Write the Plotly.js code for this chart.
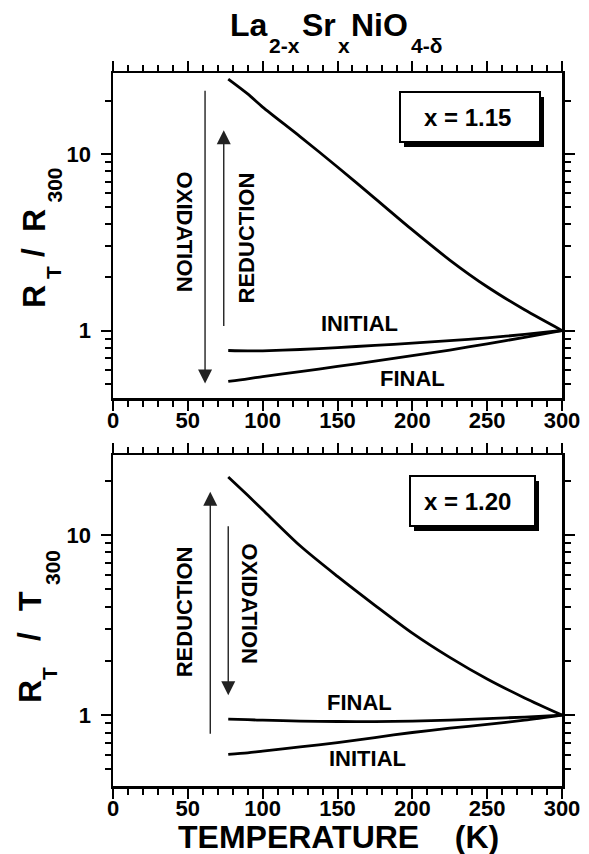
<!DOCTYPE html>
<html><head><meta charset="utf-8">
<script src="https://cdn.plot.ly/plotly-3.0.1.min.js"></script>
<style>html,body{margin:0;padding:0;background:#fff}</style>
</head><body>
<div id="chart" style="width:589px;height:854px"></div>
<script>
// ---- data ----
const temps = [77, 90, 100, 125, 150, 175, 200, 225, 250, 275, 300];
// x = 1.15 panel (R_T / R_300)
const upper115   = [26.7, 22.0, 18.5, 12.6, 8.47, 5.62, 3.72, 2.51, 1.77, 1.31, 1.0];
const initial115 = [0.77, 0.766, 0.767, 0.78, 0.80, 0.823, 0.848, 0.875, 0.908, 0.95, 1.0];
const final115   = [0.515, 0.532, 0.548, 0.585, 0.625, 0.67, 0.72, 0.775, 0.84, 0.915, 1.0];
// x = 1.20 panel (R_T / T_300)
const upper120   = [21, 16.6, 13.8, 8.71, 5.89, 4.07, 2.85, 2.09, 1.585, 1.245, 1.0];
const final120   = [0.95, 0.942, 0.936, 0.926, 0.921, 0.92, 0.925, 0.938, 0.955, 0.975, 1.0];
const initial120 = [0.605, 0.617, 0.63, 0.665, 0.703, 0.75, 0.80, 0.845, 0.887, 0.937, 1.0];
const xTickVals = [0, 50, 100, 150, 200, 250, 300];
const yTickVals = [1, 10];
const yTickText = ['1', '10'];
const yMinorVals = [0.5, 0.6, 0.7, 0.8, 0.9, 2, 3, 4, 5, 6, 7, 8, 9, 20];

// ---- layout helpers ----
const W = 589, H = 854;
const px = v => v / W, py = v => 1 - v / H;
const FONT = 'Liberation Sans, Arial, Helvetica, sans-serif';
const L = Math.log10;

const lineStyle = {color: '#000', width: 2.8, shape: 'spline', smoothing: 0.8};
function tr(y, xa, ya) { return {x: temps, y: y, xaxis: xa, yaxis: ya, mode: 'lines', line: lineStyle, hoverinfo: 'skip'}; }
const data = [
  tr(upper115, 'x', 'y'), tr(initial115, 'x', 'y'), tr(final115, 'x', 'y'),
  tr(upper120, 'x2', 'y2'), tr(final120, 'x2', 'y2'), tr(initial120, 'x2', 'y2')
];

const xBase = {
  range: [0, 300], tickmode: 'array', tickvals: xTickVals,
  ticks: 'outside', ticklen: 10, tickwidth: 2, tickcolor: '#000', ticklabelstandoff: -9,
  showline: true, linecolor: '#000', linewidth: 2.5, mirror: 'allticks',
  showgrid: false, zeroline: false, fixedrange: true, automargin: false,
  tickfont: {family: FONT, size: 22, color: '#000', weight: 700},
  minor: {dtick: 10, tick0: 0, ticks: 'outside', ticklen: 6, tickwidth: 2, tickcolor: '#000', showgrid: false}
};
const yBase = {
  type: 'log', tickmode: 'array', tickvals: yTickVals, ticktext: yTickText,
  ticks: 'outside', ticklen: 10, tickwidth: 2, tickcolor: '#000', ticklabelstandoff: 5,
  showline: true, linecolor: '#000', linewidth: 2.5, mirror: 'allticks',
  showgrid: false, zeroline: false, fixedrange: true, automargin: false,
  tickfont: {family: FONT, size: 22, color: '#000', weight: 700},
  minor: {tickmode: 'array', tickvals: yMinorVals, ticks: 'outside', ticklen: 6, tickwidth: 2, tickcolor: '#000', showgrid: false}
};

const xDom = [px(113), px(562)];
const layout = {
  width: W, height: H, margin: {l: 0, r: 0, t: 0, b: 0},
  paper_bgcolor: '#fff', plot_bgcolor: '#fff', showlegend: false,
  font: {family: FONT, color: '#000'},
  xaxis: Object.assign({}, xBase, {domain: xDom, anchor: 'y'}),
  yaxis: Object.assign({}, yBase, {domain: [py(398), py(73)], range: [-0.383, 1.461], anchor: 'x'}),
  xaxis2: Object.assign({}, xBase, {domain: xDom, anchor: 'y2'}),
  yaxis2: Object.assign({}, yBase, {domain: [py(786), py(455)], range: [-0.394, 1.444], anchor: 'x2'}),
  shapes: [], annotations: []
};

// boxes with drop shadow
function box(x0, x1, y0, y1) {
  layout.shapes.push({type: 'rect', xref: 'paper', yref: 'paper', x0: px(x0 + 4), x1: px(x1 + 4), y0: py(y1 + 5), y1: py(y0 + 5),
    fillcolor: '#000', line: {width: 0}, layer: 'above'});
  layout.shapes.push({type: 'rect', xref: 'paper', yref: 'paper', x0: px(x0), x1: px(x1), y0: py(y1), y1: py(y0),
    fillcolor: '#fff', line: {color: '#000', width: 2}, layer: 'above'});
}
box(400, 540, 92, 142);
box(410, 535, 476, 526);

function ptext(text, x, y, size, opts) {
  layout.annotations.push(Object.assign({text: text, xref: 'paper', yref: 'paper', x: px(x), y: py(y),
    xanchor: 'center', yanchor: 'middle', showarrow: false,
    font: {family: FONT, size: size, color: '#000', weight: 700}}, opts || {}));
}
function dtext(text, xa, ya, x, yv, size, angle) {
  layout.annotations.push({text: text, xref: xa, yref: ya, x: x, y: L(yv), textangle: angle || 0,
    xanchor: 'center', yanchor: 'middle', showarrow: false,
    font: {family: FONT, size: size, color: '#000', weight: 700}});
}
function arrow(xa, ya, x, yFrom, yTo) {
  layout.annotations.push({text: '', xref: xa, yref: ya, axref: xa, ayref: ya,
    x: x, y: L(yTo), ax: x, ay: L(yFrom), showarrow: true,
    arrowhead: 2, arrowsize: 2, arrowwidth: 1.4, arrowcolor: '#222', standoff: 0, startstandoff: 0});
}

ptext('x = 1.15', 467, 117, 24);
ptext('x = 1.20', 468, 501, 24);

// title pieces
const left = {xanchor: 'left'};
ptext('La', 228, 25, 32, left);
ptext('2-x', 267, 46, 21, left);
ptext('Sr', 300, 25, 32, left);
ptext('x', 336, 46, 21, left);
ptext('NiO', 349, 25, 32, left);
ptext('4-\u03b4', 409, 46, 21, left);

// y titles (rotated pieces)
const rot = {textangle: -90};
ptext('R', 34, 297, 32, rot);
ptext('T', 53, 273, 21, rot);
ptext('/', 33, 253, 32, rot);
ptext('R', 34, 221, 32, rot);
ptext('300', 53.5, 185, 21, rot);

ptext('R', 30, 692, 32, rot);
ptext('T', 49, 674, 21, rot);
ptext('/', 29, 637, 32, rot);
ptext('T', 30, 601, 32, rot);
ptext('300', 52, 568, 21, rot);

// x title
ptext('TEMPERATURE\u00a0\u00a0\u00a0\u00a0(K)', 338, 837, 32);

// panel texts
dtext('OXIDATION', 'x', 'y', 48, 3.6, 22, 90);
dtext('REDUCTION', 'x', 'y', 89.5, 3.37, 22, -90);
dtext('INITIAL', 'x', 'y', 165, 1.10, 22);
dtext('FINAL', 'x', 'y', 200, 0.537, 22);
arrow('x', 'y', 61.5, 23.4, 0.5);
arrow('x', 'y', 74, 1.04, 13.7);

dtext('REDUCTION', 'x2', 'y2', 48, 3.76, 22, -90);
dtext('OXIDATION', 'x2', 'y2', 91.5, 4.12, 22, 90);
dtext('FINAL', 'x2', 'y2', 165, 1.167, 22);
dtext('INITIAL', 'x2', 'y2', 170, 0.577, 22);
arrow('x2', 'y2', 65, 0.773, 17.4);
arrow('x2', 'y2', 77, 11.4, 1.29);

Plotly.newPlot('chart', data, layout, {staticPlot: true, displayModeBar: false});
</script>
</body></html>
